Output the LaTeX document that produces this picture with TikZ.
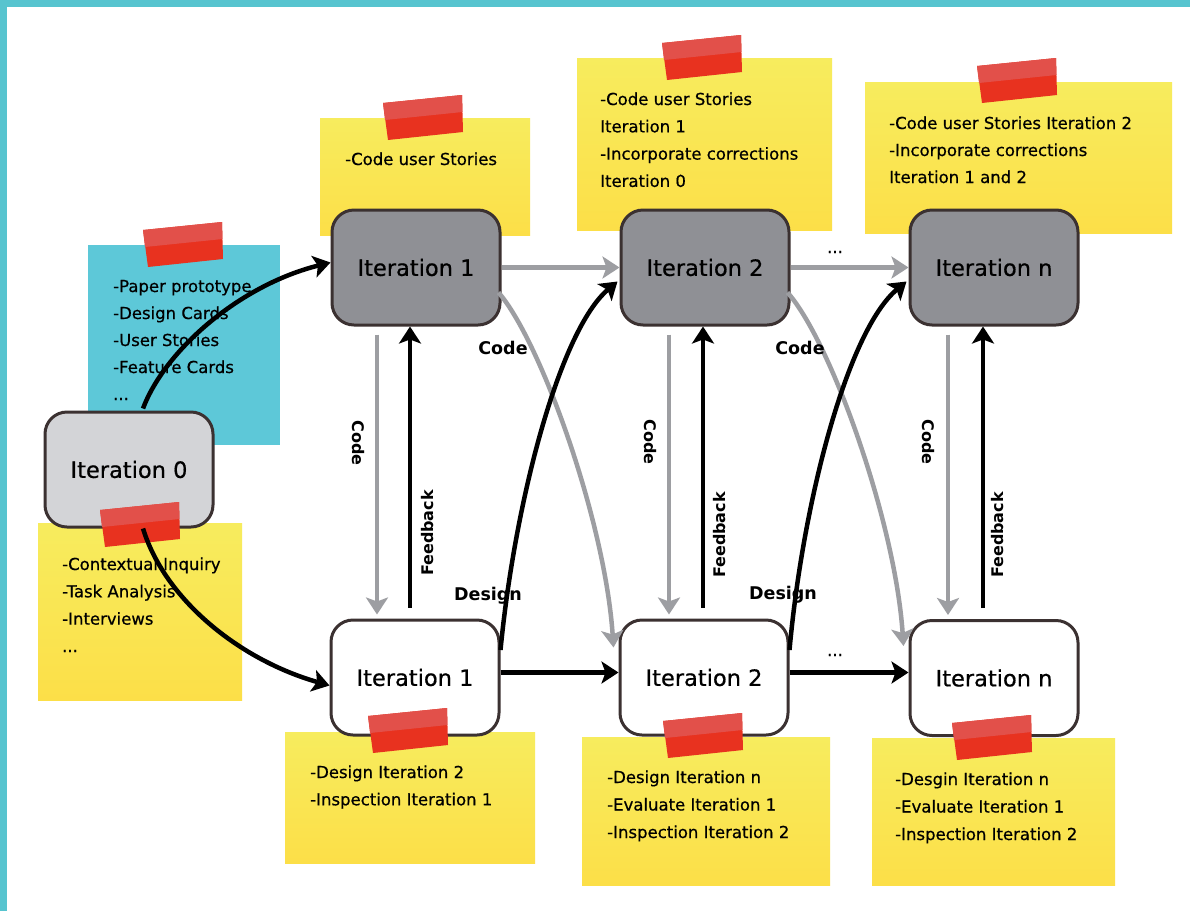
\documentclass[tikz,border=0pt]{standalone}
\usepackage{fontspec}
\setmainfont{DejaVu Sans}[FakeBold=0.6]
\newfontfamily\boldlab{DejaVu Sans Bold}
\usetikzlibrary{arrows.meta}
\definecolor{cyanbd}{HTML}{57C4CF}
\definecolor{bluenote}{HTML}{5DC8D8}
\definecolor{ytop}{HTML}{F7EC5E}
\definecolor{ybot}{HTML}{FCDF48}
\definecolor{tapedark}{HTML}{E8321F}
\definecolor{tapelight}{HTML}{E2504A}
\definecolor{boxline}{HTML}{3B3131}
\definecolor{boxgray}{HTML}{8F9095}
\definecolor{boxlight}{HTML}{D3D4D7}
\definecolor{arrowgray}{HTML}{9D9EA2}
\newcommand\tapeat[2]{%
  \fill[tapedark] (#1,#2+8) -- (#1+79,#2) -- (#1+80,#2+37) -- (#1+5,#2+45) -- cycle;
  \fill[tapelight] (#1,#2+8) -- (#1+79,#2) -- (#1+79.5,#2+17) -- (#1+2,#2+25) -- cycle;}
\begin{document}
\begin{tikzpicture}[x=1pt,y=-1pt,
  itbox/.style={draw=boxline, line width=3pt, rounded corners=22pt, minimum width=168pt,
    minimum height=115pt, inner sep=0pt, font=\fontsize{22.5}{26}\selectfont},
  yellownote/.style={top color=ytop, bottom color=ybot},
  notetext/.style={font=\fontsize{16.5}{20}\selectfont, anchor=base west, inner sep=0pt},
  lab/.style={font=\boldlab\fontsize{17.5}{20}\selectfont, inner sep=0pt},
  rlab/.style={font=\boldlab\fontsize{16}{18}\selectfont, inner sep=0pt},
  grayarrow/.style={draw=arrowgray, line width=4.5pt, -{Stealth[length=17pt,width=22pt,inset=4pt]}},
  blackarrow/.style={draw=black, line width=4.5pt, -{Stealth[length=17pt,width=22pt,inset=4pt]}}]
\useasboundingbox (0,0) rectangle (1190,911);
\fill[white] (0,0) rectangle (1190,911);
\fill[cyanbd] (0,0) rectangle (1190,7);
\fill[cyanbd] (0,0) rectangle (7,911);
% notes
\fill[bluenote] (88,245) rectangle (280,445);
\shade[yellownote] (38,523) rectangle (242,700);
\shade[yellownote] (320,118) rectangle (530,235);
\shade[yellownote] (577,58) rectangle (832,230);
\shade[yellownote] (865,82) rectangle (1172,233);
\shade[yellownote] (285,732) rectangle (535,863);
\shade[yellownote] (582,737) rectangle (830,885);
\shade[yellownote] (872,738) rectangle (1115,885);
% note texts
\foreach \t [count=\i] in {-Paper prototype,-Design Cards,-User Stories,-Feature Cards}
  \node[notetext] (nb-\i) at (113,{292+(\i-1)*27}) {\t};
\node[notetext] (nb-5) at (113,400) {{.}{.}{.}};
\foreach \t [count=\i] in {-Contextual Inquiry,-Task Analysis,-Interviews}
  \node[notetext] (ny-\i) at (62,{570+(\i-1)*27.3}) {\t};
\node[notetext] (ny-4) at (62,652) {{.}{.}{.}};
\node[notetext] (nt1-1) at (345,165) {-Code user Stories};
\foreach \t [count=\i] in {-Code user Stories,Iteration 1,-Incorporate corrections,Iteration 0}
  \node[notetext] (nt2-\i) at (600,{105+(\i-1)*27.3}) {\t};
\foreach \t [count=\i] in {-Code user Stories Iteration 2,-Incorporate corrections,Iteration 1 and 2}
  \node[notetext] (nt3-\i) at (889,{129+(\i-1)*27}) {\t};
\foreach \t [count=\i] in {-Design Iteration 2,-Inspection Iteration 1}
  \node[notetext] (nb1-\i) at (310,{778+(\i-1)*27.3}) {\t};
\foreach \t [count=\i] in {-Design Iteration n,-Evaluate Iteration 1,-Inspection Iteration 2}
  \node[notetext] (nb2-\i) at (607,{783+(\i-1)*27.5}) {\t};
\foreach \t [count=\i] in {-Desgin Iteration n,-Evaluate Iteration 1,-Inspection Iteration 2}
  \node[notetext] (nb3-\i) at (895,{785+(\i-1)*27.5}) {\t};
% boxes
\node[itbox, fill=boxlight] (I0) at (129,469.5) {Iteration 0};
\node[itbox, fill=boxgray] (T1) at (416,267.5) {Iteration 1};
\node[itbox, fill=boxgray] (T2) at (705,267.5) {Iteration 2};
\node[itbox, fill=boxgray] (Tn) at (994,267.5) {Iteration n};
\node[itbox, fill=white] (B1) at (415,677.5) {Iteration 1};
\node[itbox, fill=white] (B2) at (704,677.5) {Iteration 2};
\node[itbox, fill=white] (Bn) at (994,678) {Iteration n};
% tapes
\tapeat{143}{222}
\tapeat{100}{502}
\tapeat{383}{95}
\tapeat{662}{35}
\tapeat{977}{58}
\tapeat{368}{708}
\tapeat{663}{713}
\tapeat{952}{715}
% gray connectors
\draw[grayarrow] (T1.east) -- (T2.west);
\draw[grayarrow] (T2.east) -- (Tn.west);
\draw[grayarrow, shorten <=8pt, shorten >=4pt] ([xshift=-39pt]T1.south) -- ([xshift=-38pt]B1.north);
\draw[grayarrow, shorten <=8pt, shorten >=4pt] ([xshift=-36pt]T2.south) -- ([xshift=-35pt]B2.north);
\draw[grayarrow, shorten <=8pt, shorten >=4pt] ([xshift=-46pt]Tn.south) -- ([xshift=-46pt]Bn.north);
\draw[grayarrow] ([shift={(-3pt,-25pt)}]T1.east) .. controls (540,340) and (605,520) .. ([shift={(-5pt,30pt)}]B2.west);
\draw[grayarrow] ([shift={(-3pt,-25pt)}]T2.east) .. controls (830,340) and (895,520) .. ([shift={(-5pt,32pt)}]Bn.west);
% black connectors
\draw[blackarrow] ([shift={(14pt,2pt)}]I0.north) .. controls (165,350) and (240,285) .. ([yshift=5pt]T1.west);
\draw[blackarrow] ([xshift=14pt]I0.south) .. controls (165,600) and (240,660) .. ([yshift=-8pt]B1.west);
\draw[blackarrow, shorten <=11pt] ([xshift=-5pt]B1.north) -- ([xshift=-6pt]T1.south);
\draw[blackarrow, shorten <=11pt] ([xshift=-1pt]B2.north) -- ([xshift=-2pt]T2.south);
\draw[blackarrow, shorten <=11pt] ([xshift=-11pt]Bn.north) -- ([xshift=-11pt]Tn.south);
\draw[blackarrow] ([yshift=5pt]B1.east) -- ([yshift=5pt]B2.west);
\draw[blackarrow] ([yshift=5pt]B2.east) -- ([yshift=5.5pt]Bn.west);
\draw[blackarrow] ([yshift=27.5pt]B1.east) .. controls (515,500) and (560,330) .. ([shift={(-2pt,-14pt)}]T2.west);
\draw[blackarrow] ([yshift=27.5pt]B2.east) .. controls (803,500) and (848,330) .. ([shift={(-2pt,-14pt)}]Tn.west);
% labels
\node[rlab, rotate=-90] (c1) at (358,443) {Code};
\node[rlab, rotate=-90] (c2) at (650,442) {Code};
\node[rlab, rotate=-90] (c3) at (928,442) {Code};
\node[rlab, rotate=90] (f1) at (428,533) {Feedback};
\node[rlab, rotate=90] (f2) at (720,535) {Feedback};
\node[rlab, rotate=90] (f3) at (998,535) {Feedback};
\node[lab] (ch1) at (503,348) {Code};
\node[lab] (ch2) at (800,348) {Code};
\node[lab] (d1) at (488,596) {Design};
\node[lab] (d2) at (783,595) {Design};
\node[notetext, anchor=base] (dots1) at (835,253) {{.}{.}{.}};
\node[notetext, anchor=base] (dots2) at (835,656) {{.}{.}{.}};
\end{tikzpicture}
\end{document}
